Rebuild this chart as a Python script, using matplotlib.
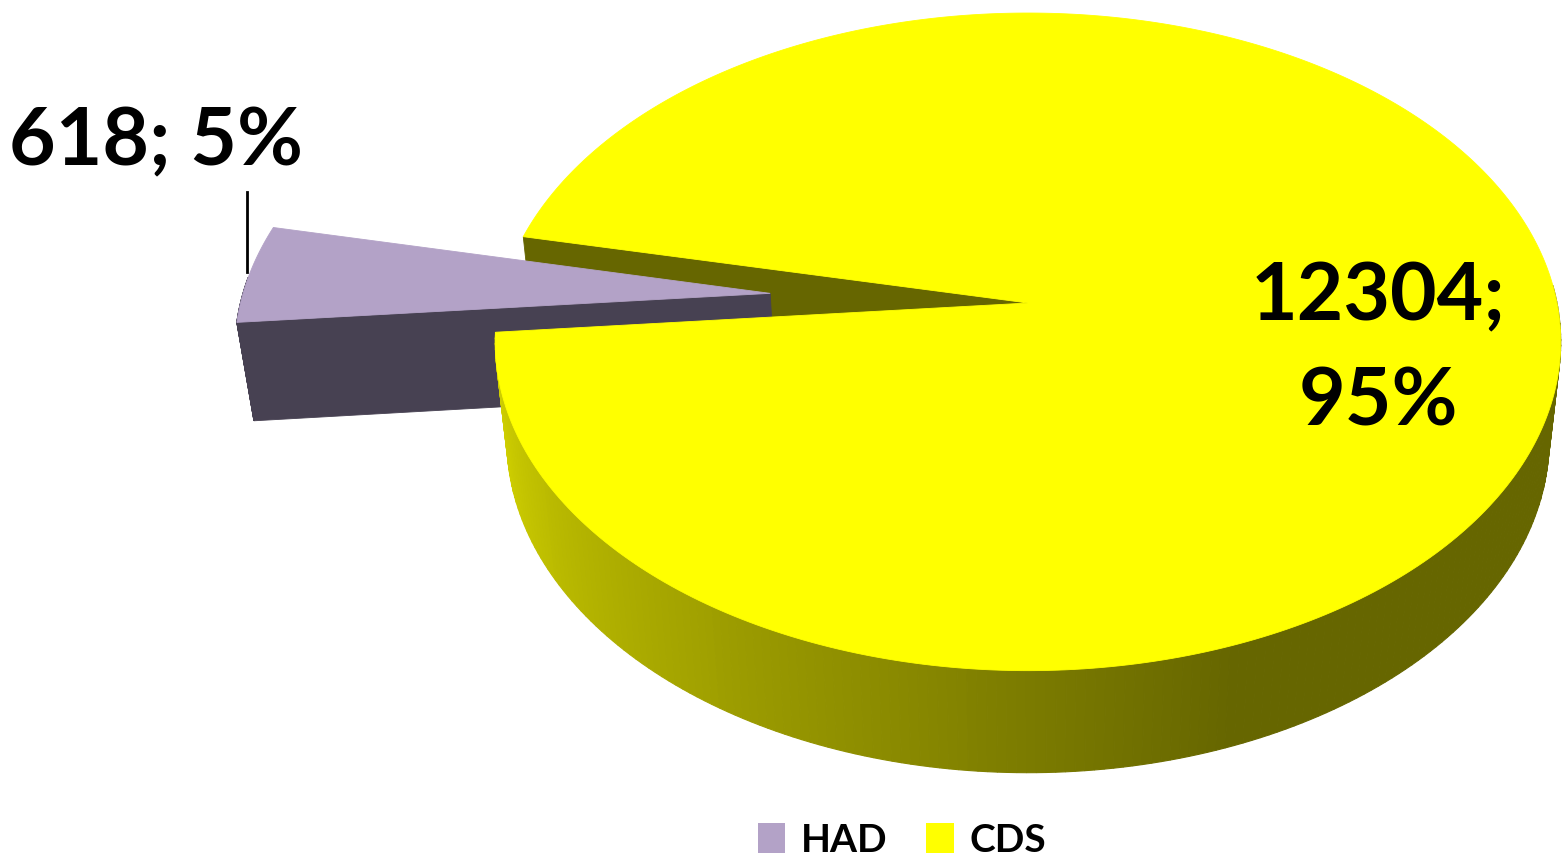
import numpy as np
import matplotlib
matplotlib.use("Agg")
import matplotlib.pyplot as plt
from matplotlib.patches import Polygon, Patch

# ---------------- data ----------------
categories = ["HAD", "CDS"]
values = [618, 12304]
pct_labels = ["5%", "95%"]
colors_top = ["#B3A2C7", "#FFFF00"]
colors_side = ["#474152", "#666600"]

# ---------------- layout ----------------
W, H = 1566, 865
cx, cy = 1028, 303          # pixel position of pie centre
R = 529                     # radius in pixels
phi = np.radians(37.8)      # elevation
D = 6.69                    # perspective distance (radius units)
h = 0.24                    # thickness (radius units)
start_deg = 167.9           # math angle where first slice starts (ccw)
explode = [0.49, 0.0]
FONT = ["Lato", "DejaVu Sans"]
WEIGHT = "bold"

def proj(X, Y, Z):
    X = np.asarray(X, float); Y = np.asarray(Y, float); Z = np.asarray(Z, float)
    y_up = Y * np.sin(phi) + Z * np.cos(phi)
    d = Y * np.cos(phi) - Z * np.sin(phi)
    s = D / (D + d)
    return cx + R * X * s, cy - R * y_up * s

fig = plt.figure(figsize=(W / 100, H / 100), dpi=100)
ax = fig.add_axes([0, 0, 1, 1])
ax.set_xlim(0, W)
ax.set_ylim(H, 0)
ax.axis("off")

vals = np.array(values, float)
fracs = vals / vals.sum()
edges = start_deg + 360 * np.concatenate([[0], np.cumsum(fracs)])

slices = []
for i in range(len(values)):
    t0, t1 = edges[i], edges[i + 1]
    tm = np.radians((t0 + t1) / 2)
    ox, oy = explode[i] * np.cos(tm), explode[i] * np.sin(tm)
    slices.append((t0, t1, ox, oy))

def rim(i, z, n=400):
    t0, t1, ox, oy = slices[i]
    t = np.radians(np.linspace(t0, t1, n))
    return proj(ox + np.cos(t), oy + np.sin(t), np.full_like(t, z))

def top_face(i, color, z=0.0):
    t0, t1, ox, oy = slices[i]
    ax_, ay_ = proj(ox, oy, z)
    rx, ry = rim(i, z)
    pts = np.column_stack([np.r_[ax_, rx], np.r_[ay_, ry]])
    ax.add_patch(Polygon(pts, closed=True, facecolor=color, edgecolor=color, lw=0.6))

def radial_face(i, ang, color):
    t0, t1, ox, oy = slices[i]
    a = np.radians(ang)
    X = [ox, ox + np.cos(a), ox + np.cos(a), ox]
    Y = [oy, oy + np.sin(a), oy + np.sin(a), oy]
    Z = [0, 0, -h, -h]
    px, py = proj(X, Y, Z)
    ax.add_patch(Polygon(np.column_stack([px, py]), closed=True,
                         facecolor=color, edgecolor=color, lw=0.6))

def side_color_cds(tdeg):
    t = tdeg % 360
    b = np.interp(t, [186, 266, 290], [215, 128, 102])
    if t < 180:
        b = 102
    return (b / 255, b / 255, 0)

def outer_side(i, colorfunc, n=360):
    t0, t1, ox, oy = slices[i]
    t = np.linspace(t0, t1, n + 1)
    for k in range(n):
        ta, tb = t[k], t[k + 1]
        tmid = np.radians((ta + tb) / 2)
        if np.sin(tmid) > 0.05:
            continue
        a, b = np.radians(ta), np.radians(tb)
        X = [ox + np.cos(a), ox + np.cos(b), ox + np.cos(b), ox + np.cos(a)]
        Y = [oy + np.sin(a), oy + np.sin(b), oy + np.sin(b), oy + np.sin(a)]
        Z = [0, 0, -h, -h]
        px, py = proj(X, Y, Z)
        c = colorfunc((ta + tb) / 2)
        ax.add_patch(Polygon(np.column_stack([px, py]), closed=True,
                             facecolor=c, edgecolor=c, lw=0.8))

# 1. CDS cut face visible through the gap
radial_face(1, edges[2], colors_side[1])
# 2. HAD slice (exploded)
outer_side(0, lambda t: colors_side[0])
radial_face(0, edges[1], colors_side[0])
top_face(0, colors_top[0])
# 3. CDS slice
outer_side(1, side_color_cds)
top_face(1, colors_top[1])

# ---------------- labels ----------------
ax.text(156, 142, f"{values[0]}; {pct_labels[0]}", ha="center", va="center",
        fontsize=58, fontweight=WEIGHT, family=FONT, color="black")
ax.plot([247, 247], [192, 272], color="black", lw=2)
ax.text(1378, 350, f"{values[1]};\n{pct_labels[1]}", ha="center", va="center",
        fontsize=58, fontweight=WEIGHT, family=FONT, color="black", linespacing=1.52)

# ---------------- legend ----------------
handles = [Patch(facecolor=c, edgecolor="none") for c in colors_top]
fig.legend(handles, categories, loc="center", bbox_to_anchor=(902 / W, 1 - 840 / H),
           ncol=2, frameon=False, prop={"family": FONT, "weight": WEIGHT, "size": 28},
           handlelength=0.7, handleheight=0.8, handletextpad=0.4, columnspacing=1.0)

fig.savefig("out.png", dpi=100)
